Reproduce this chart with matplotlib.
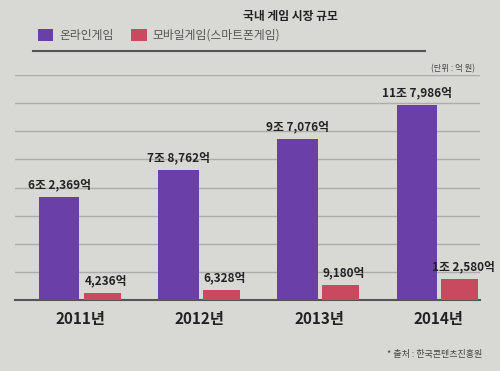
import matplotlib.pyplot as plt
from matplotlib.patches import Patch
from matplotlib.lines import Line2D

plt.rcParams['font.family'] = ['Noto Sans CJK KR', 'DejaVu Sans']

# 데이터 (단위: 억 원)
years = ["2011년", "2012년", "2013년", "2014년"]
online = [62369, 78762, 97076, 117986]
mobile = [4236, 6328, 9180, 12580]

PURPLE = "#6b3fa8"
RED = "#c94a5e"
BG = "#d8d8d4"


def fmt(v):
    jo, eok = divmod(v, 10000)
    if jo:
        return f"{jo}조 {eok:,}억"
    return f"{eok:,}억"


fig = plt.figure(figsize=(5, 3.71), dpi=100, facecolor=BG)
ax = fig.add_axes([0.03, 0.191, 0.93, 0.607])
ax.set_facecolor(BG)

x = list(range(len(years)))
xo = [i - 0.18 for i in x]
xm = [i + 0.18 for i in x]
ax.bar(xo, online, width=0.34, color=PURPLE, zorder=3)
ax.bar(xm, mobile, width=0.31, color=RED, zorder=3)

for xi, v in zip(xo, online):
    ax.text(xi, v + 3500, fmt(v), ha="center", va="bottom",
            fontsize=8.5, fontweight="bold", color="#222222", zorder=4)
for xi, v in zip(xm, mobile):
    ax.text(xi + 0.03, v + 3500, fmt(v), ha="center", va="bottom",
            fontsize=8.5, fontweight="bold", color="#222222", zorder=4)

ax.set_xlim(-0.55, 3.35)
ax.set_ylim(0, 136000)
ax.set_yticks(range(17000, 136001, 17000))
ax.yaxis.grid(True, color="#acacaa", linewidth=1)
ax.tick_params(axis="y", left=False, labelleft=False)
ax.set_xticks(x)
ax.set_xticklabels(years, fontsize=11, fontweight="bold", color="#222222")
ax.tick_params(axis="x", length=0, pad=8)
for s in ["top", "left", "right"]:
    ax.spines[s].set_visible(False)
ax.spines["bottom"].set_color("#555555")
ax.spines["bottom"].set_linewidth(1.5)
ax.set_axisbelow(True)

fig.text(0.58, 0.955, "국내 게임 시장 규모", ha="center", va="center",
         fontsize=8.5, fontweight="bold", color="#222222")

handles = [Patch(facecolor=PURPLE, label="온라인게임"),
           Patch(facecolor=RED, label="모바일게임(스마트폰게임)")]
fig.legend(handles=handles, loc="center left", bbox_to_anchor=(0.055, 0.905),
           ncol=2, frameon=False, fontsize=8.5, handlelength=1.3,
           handleheight=1.3, handletextpad=0.5, columnspacing=1.5,
           labelcolor="#555555")

fig.add_artist(Line2D([0.066, 0.85], [0.862, 0.862], color="#555555",
                      linewidth=1.5, transform=fig.transFigure))

fig.text(0.95, 0.815, "(단위 : 억 원)", ha="right", va="center",
         fontsize=6, color="#444444")
fig.text(0.965, 0.045, "* 출처 : 한국콘텐츠진흥원", ha="right", va="center",
         fontsize=6.5, color="#444444")

fig.savefig("out.png", dpi=100, facecolor=BG)
